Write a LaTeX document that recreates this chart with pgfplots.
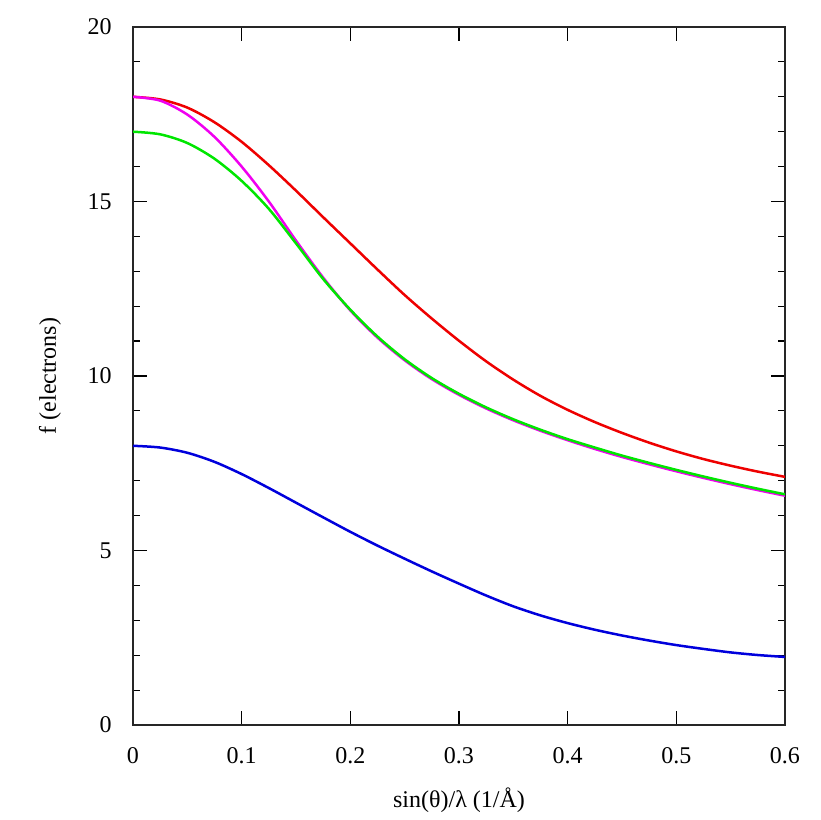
\documentclass[border=0pt]{standalone}
\usepackage{pgfplots}
\pgfplotsset{compat=1.18}
\usepackage{fontspec}
\setmainfont{Liberation Serif}
\definecolor{cred}{RGB}{238,0,0}
\definecolor{cmag}{RGB}{240,0,240}
\definecolor{cgreen}{RGB}{0,230,0}
\definecolor{cblue}{RGB}{0,0,220}
\begin{document}
\fontsize{12}{14}\selectfont
\begin{tikzpicture}
\path[use as bounding box] (0,0) rectangle (410pt,410pt);
\begin{axis}[
  at={(66.5pt,47.5pt)}, anchor=south west,
  scale only axis, width=326pt, height=349pt,
  xmin=0, xmax=0.6, ymin=0, ymax=20,
  xtick={0,0.1,0.2,0.3,0.4,0.5,0.6},
  xticklabels={0,0.1,0.2,0.3,0.4,0.5,0.6},
  ytick={0,5,10,15,20},
  yticklabels={0,5,10,15,20},
  minor y tick num=4,
  tick align=inside,
  major tick length=7pt, minor tick length=3.5pt,
  every tick/.style={black, line width=0.6pt},
  axis line style={line width=0.8pt, black!85},
  /pgf/number format/assume math mode=true,
  tick label style={font=\fontsize{12}{14}\selectfont},
  xticklabel style={yshift=-7pt},
  yticklabel style={xshift=-6.5pt},
  xlabel={sin(θ)/λ (1/Å)},
  ylabel={f (electrons)},
  label style={font=\fontsize{12}{14}\selectfont},
  xlabel style={at={(axis description cs:0.5,-0.1074)}, anchor=center},
  ylabel style={at={(axis description cs:-0.1273,0.5)}, anchor=center, rotate=0},
  clip=true,
]
\addplot[cred, line width=1.25pt, smooth] coordinates {
(0,18.00) (0.025,17.925) (0.05,17.69) (0.075,17.27) (0.1,16.71) (0.125,16.04)
(0.15,15.31) (0.175,14.55) (0.2,13.80) (0.225,13.05) (0.25,12.32) (0.275,11.645)
(0.3,11.01) (0.325,10.42) (0.35,9.895) (0.375,9.43) (0.4,9.03) (0.425,8.68)
(0.45,8.37) (0.475,8.09) (0.5,7.84) (0.525,7.62) (0.55,7.43) (0.575,7.26) (0.6,7.11)};
\addplot[cmag, line width=1.25pt, smooth] coordinates {
(0,18.00) (0.025,17.89) (0.05,17.49) (0.075,16.85) (0.1,16.00) (0.125,15.00)
(0.15,13.88) (0.175,12.82) (0.2,11.88) (0.225,11.10) (0.25,10.45) (0.275,9.91)
(0.3,9.46) (0.325,9.07) (0.35,8.73) (0.375,8.43) (0.4,8.16) (0.425,7.91)
(0.45,7.68) (0.475,7.47) (0.5,7.27) (0.525,7.08) (0.55,6.90) (0.575,6.73) (0.6,6.57)};
\addplot[cgreen, line width=1.25pt, smooth] coordinates {
(0,17.00) (0.025,16.925) (0.05,16.675) (0.075,16.225) (0.1,15.59) (0.125,14.79)
(0.15,13.80) (0.175,12.78) (0.2,11.90) (0.225,11.13) (0.25,10.48) (0.275,9.94)
(0.3,9.49) (0.325,9.10) (0.35,8.76) (0.375,8.46) (0.4,8.19) (0.425,7.95)
(0.45,7.72) (0.475,7.51) (0.5,7.31) (0.525,7.12) (0.55,6.94) (0.575,6.77) (0.6,6.61)};
\addplot[cblue, line width=1.25pt, smooth] coordinates {
(0,8.00) (0.025,7.95) (0.05,7.80) (0.075,7.54) (0.1,7.19) (0.125,6.79)
(0.15,6.37) (0.175,5.95) (0.2,5.535) (0.225,5.14) (0.25,4.765) (0.275,4.40)
(0.3,4.05) (0.325,3.71) (0.35,3.40) (0.375,3.14) (0.4,2.92) (0.425,2.73)
(0.45,2.565) (0.475,2.42) (0.5,2.29) (0.525,2.18) (0.55,2.08) (0.575,2.005) (0.6,1.95)};
\end{axis}
\end{tikzpicture}
\end{document}
